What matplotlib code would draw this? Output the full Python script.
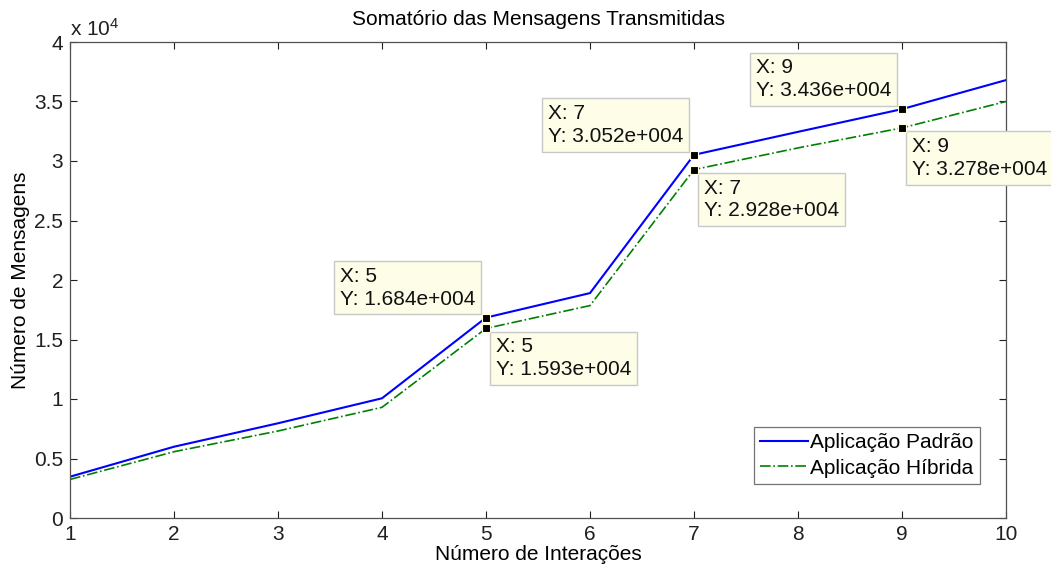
import matplotlib
matplotlib.use("Agg")
import matplotlib.pyplot as plt
from matplotlib.ticker import FuncFormatter, MultipleLocator

plt.rcParams['font.family'] = ['Liberation Sans', 'DejaVu Sans']
plt.rcParams['mathtext.fontset'] = 'custom'
plt.rcParams['mathtext.rm'] = 'Liberation Sans'
plt.rcParams['mathtext.it'] = 'Liberation Sans'

# ---- data ----
iteracoes = [1, 2, 3, 4, 5, 6, 7, 8, 9, 10]
padrao = [3470, 5990, 7960, 10060, 16840, 18900, 30520, 32450, 34360, 36800]
hibrida = [3240, 5570, 7310, 9300, 15930, 17850, 29280, 31100, 32780, 35000]
serie_padrao = "Aplicação Padrão"
serie_hibrida = "Aplicação Híbrida"
titulo = "Somatório das Mensagens Transmitidas"
xlabel = "Número de Interações"
ylabel = "Número de Mensagens"
# data tips: indices of x
tips_padrao = [4, 6, 8]
tips_hibrida = [4, 6, 8]

FS = 15

W, H = 1051, 565
fig = plt.figure(figsize=(W / 100, H / 100), dpi=100)
ax = fig.add_axes([70 / W, (H - 518) / H, (1006 - 70) / W, (518 - 42) / H])

ax.plot(iteracoes, padrao, color='#0000ff', lw=1.5, ls='-', label=serie_padrao)
ax.plot(iteracoes, hibrida, color='#008000', lw=1.2, ls='-.', label=serie_hibrida)

ax.set_xlim(1, 10)
ax.set_ylim(0, 40000)
ax.xaxis.set_major_locator(MultipleLocator(1))
ax.yaxis.set_major_locator(MultipleLocator(5000))
ax.yaxis.set_major_formatter(FuncFormatter(lambda v, p: f"{v / 1e4:g}"))
ax.tick_params(direction='in', length=5, width=0.8, top=True, right=True,
               labelsize=FS, colors='#202020', pad=5)
for s in ax.spines.values():
    s.set_color('#505050')
    s.set_linewidth(0.9)

ax.text(0.0, 1.004, r"x 10$^{4}$", transform=ax.transAxes, fontsize=FS,
        ha='left', va='bottom', color='#202020')

ax.set_title(titulo, fontsize=FS, pad=12)
ax.set_xlabel(xlabel, fontsize=FS, labelpad=1)
ax.set_ylabel(ylabel, fontsize=FS, labelpad=3)


def matlab_fmt(v):
    m, e = f"{v:.3e}".split('e')
    sign = e[0]
    return f"{m}e{sign}{int(e[1:]):03d}"


def tip(x, y, upper_left):
    txt = f"X: {x}\nY: {matlab_fmt(y)}"
    if upper_left:
        off, ha, va = (-11, 9), 'right', 'bottom'
    else:
        off, ha, va = (10, -9), 'left', 'top'
    ax.annotate(txt, xy=(x, y), xytext=off, textcoords='offset pixels',
                ha=ha, va=va, multialignment='left', fontsize=FS,
                linespacing=1.25, color='#111111',
                bbox=dict(boxstyle='square,pad=0.28', fc='#fdfde8', ec='#c8c8c8', lw=1),
                zorder=5)
    ax.plot([x], [y], ls='none', marker='s', ms=5.5, mfc='black', mec='#ffffe0',
            mew=0.8, zorder=6, clip_on=False)


for i in tips_padrao:
    tip(iteracoes[i], padrao[i], True)
for i in tips_hibrida:
    tip(iteracoes[i], hibrida[i], False)

leg = ax.legend(loc='lower right', bbox_to_anchor=((980 - 70) / 936, 34 / 476),
                fontsize=FS, frameon=True, fancybox=False, edgecolor='#505050',
                borderpad=0.3, handlelength=2.3, handletextpad=0.1,
                labelspacing=0.3, borderaxespad=0.0)
leg.get_frame().set_linewidth(0.9)

fig.savefig("out.png", dpi=100)
